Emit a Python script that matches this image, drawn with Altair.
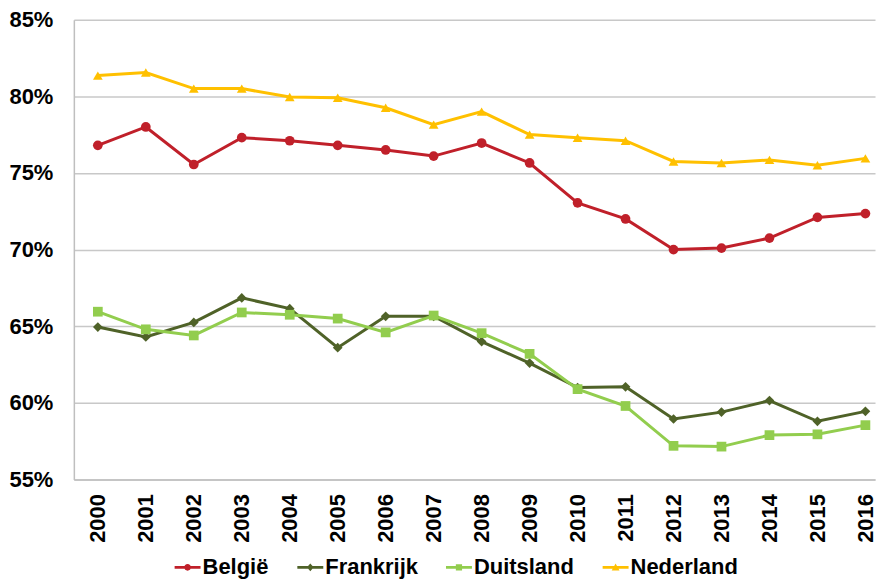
import altair as alt
import pandas as pd

years = list(range(2000, 2017))
series_names = ["België", "Frankrijk", "Duitsland", "Nederland"]
belgie = [76.8, 78.0, 75.55, 77.3, 77.1, 76.8, 76.5, 76.1, 76.95, 75.65, 73.05, 72.0, 70.0, 70.1, 70.75, 72.1, 72.35]
frankrijk = [64.95, 64.3, 65.25, 66.85, 66.15, 63.6, 65.65, 65.65, 64.0, 62.6, 61.0, 61.05, 58.95, 59.4, 60.15, 58.8, 59.45]
duitsland = [65.95, 64.8, 64.4, 65.9, 65.75, 65.5, 64.6, 65.7, 64.55, 63.2, 60.9, 59.8, 57.2, 57.15, 57.9, 57.95, 58.55]
nederland = [81.35, 81.55, 80.5, 80.5, 79.95, 79.9, 79.25, 78.15, 79.0, 77.5, 77.3, 77.1, 75.75, 75.65, 75.85, 75.5, 75.95]
y_ticks = [55, 60, 65, 70, 75, 80, 85]

colors = ["#C0202A", "#4F6228", "#92CD4E", "#FFC000"]
point_shapes = ["circle", "diamond", "square", "triangle-up"]
point_sizes = [95, 95, 100, 130]
bar = "M-1,-0.11H1V0.11H-1Z "
legend_shapes = [
    bar + "M0.26,0A0.26,0.26 0 1,1 -0.26,0A0.26,0.26 0 1,1 0.26,0Z",
    bar + "M0,-0.3L0.26,0L0,0.3L-0.26,0Z",
    bar + "M-0.24,-0.24H0.24V0.24H-0.24Z",
    bar + "M0,-0.3L0.3,0.24H-0.3Z",
]

rows = []
for name, vals in zip(series_names, [belgie, frankrijk, duitsland, nederland]):
    for yr, v in zip(years, vals):
        rows.append({"jaar": yr, "waarde": v, "land": name})
df = pd.DataFrame(rows)

FONT = "Liberation Sans"

x_enc = alt.X("jaar:Q",
              scale=alt.Scale(domain=[1999.5, 2016.2], nice=False, zero=False),
              axis=alt.Axis(values=years, format="d", labelAngle=-90, grid=False, ticks=False,
                            labelFontSize=22, labelFont=FONT, labelFontWeight="bold",
                            labelColor="#000000", labelPadding=14, domainColor="#BFBFBF",
                            domainWidth=1.5, title=None, labelOverlap=False, labelFlush=False))
y_enc = alt.Y("waarde:Q",
              scale=alt.Scale(domain=[55, 85], nice=False, zero=False),
              axis=alt.Axis(values=y_ticks, labelExpr="datum.value + '%'", ticks=False,
                            labelFontSize=22, labelFont=FONT, labelFontWeight="bold",
                            labelColor="#000000", labelPadding=21, gridColor="#C8C8C8",
                            gridWidth=1.5, domainColor="#BFBFBF", domainWidth=1.5, title=None))

color_scale = alt.Scale(domain=series_names, range=colors)

lines = alt.Chart(df).mark_line(strokeWidth=3).encode(
    x=x_enc, y=y_enc,
    color=alt.Color("land:N", scale=color_scale, legend=None),
)

points = alt.Chart(df).mark_point(filled=True, opacity=1).encode(
    x=x_enc, y=y_enc,
    color=alt.Color("land:N", scale=color_scale, legend=None),
    shape=alt.Shape("land:N", scale=alt.Scale(domain=series_names, range=point_shapes), legend=None),
    size=alt.Size("land:N", scale=alt.Scale(domain=series_names, range=point_sizes), legend=None),
)

leg = dict(title=None, orient="none", direction="horizontal", legendX=101, legendY=536)
legend_layer = alt.Chart(df).transform_filter("false").mark_point(filled=True, opacity=1).encode(
    x=x_enc, y=y_enc,
    color=alt.Color("land:N", scale=alt.Scale(domain=series_names, range=colors),
                    legend=alt.Legend(**leg)),
    shape=alt.Shape("land:N", scale=alt.Scale(domain=series_names, range=legend_shapes),
                    legend=alt.Legend(**leg)),
)

chart = alt.layer(lines, points, legend_layer).resolve_scale(
    color="independent", shape="independent"
).properties(width=803, height=461, padding=0).configure_view(stroke=None).configure_legend(
    labelFont=FONT, labelFontSize=22, labelFontWeight="bold", labelColor="#000000",
    symbolSize=676, symbolStrokeWidth=0, columnPadding=28, labelOffset=2, padding=0,
    symbolOpacity=1,
)

chart.save("out.html", embed_options={"renderer": "svg", "actions": False})
